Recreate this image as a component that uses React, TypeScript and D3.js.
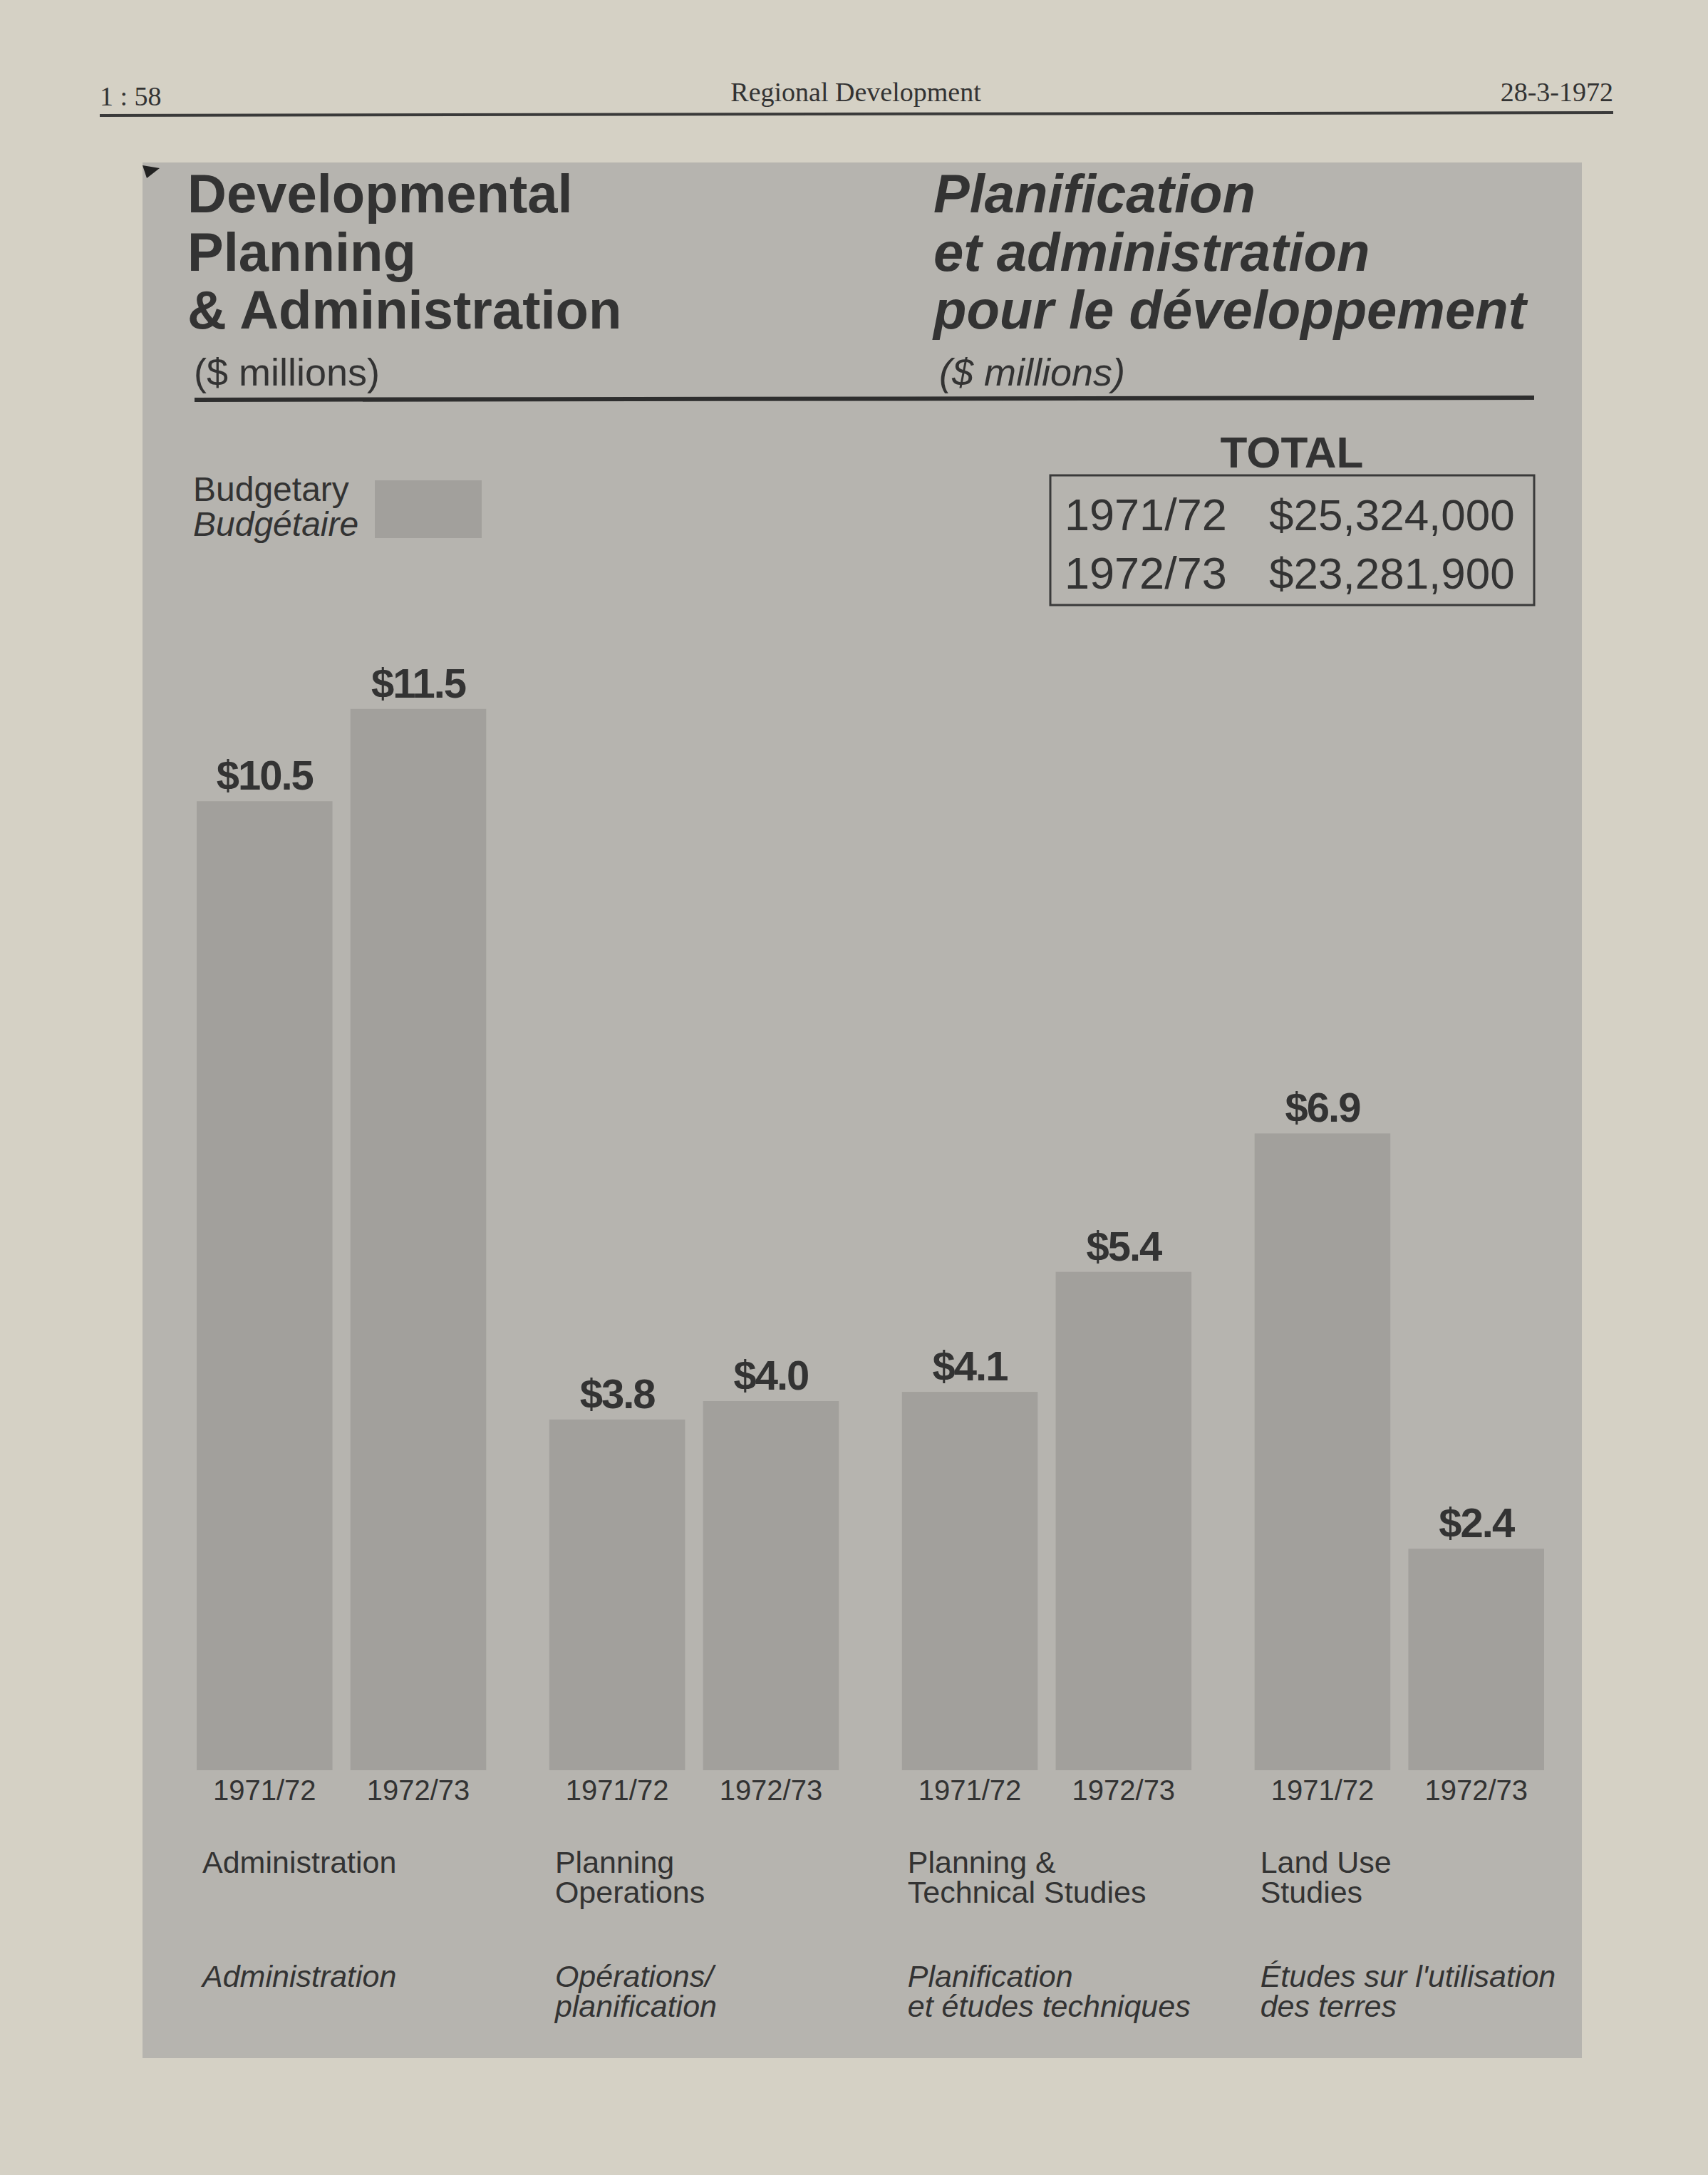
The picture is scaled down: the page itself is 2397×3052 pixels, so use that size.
import React, { useEffect } from "react";
import * as d3 from "d3";

const categories = ["Administration", "Planning Operations", "Planning & Technical Studies", "Land Use Studies"];
const categoryLabelsEn = [["Administration"], ["Planning", "Operations"], ["Planning &", "Technical Studies"], ["Land Use", "Studies"]];
const categoryLabelsFr = [["Administration"], ["Opérations/", "planification"], ["Planification", "et études techniques"], ["Études sur l'utilisation", "des terres"]];
const years = ["1971/72", "1972/73"];
const values1971 = [10.5, 3.8, 4.1, 6.9];
const values1972 = [11.5, 4.0, 5.4, 2.4];
const totalYears = ["1971/72", "1972/73"];
const totalAmounts = ["$25,324,000", "$23,281,900"];
const titleEn = ["Developmental", "Planning", "& Administration"];
const titleFr = ["Planification", "et administration", "pour le développement"];

const W = 2397;
const H = 3052;
const SANS = "'Liberation Sans', Arial, Helvetica, sans-serif";
const SERIF = "'Liberation Serif', 'DejaVu Serif', serif";
const INK = "#333333";
const PAGE = "#d5d1c5";
const PANEL = "#b6b4af";
const BAR = "#a2a09c";

export default function App() {
  useEffect(() => {
    document.body.style.margin = "0";
  }, []);

  const baseline = 2484;
  const y = d3.scaleLinear().domain([0, 11.5]).range([baseline, baseline - 11.5 * 129.5]);
  const x0 = d3.scaleBand<string>().domain(categories).range([276, 2167]).paddingInner(0.179).paddingOuter(0);
  const x1 = d3.scaleBand<string>().domain(years).range([0, x0.bandwidth()]).paddingInner(0.117);
  const fmt = (v: number) => "$" + d3.format(".1f")(v);

  const rows = categories.map((c, i) => ({ c, i, vals: [values1971[i], values1972[i]] }));

  return (
    <svg width={W} height={H} viewBox={`0 0 ${W} ${H}`} style={{ display: "block" }}>
      <rect x={0} y={0} width={W} height={H} fill={PAGE} />
      {/* page header */}
      <text x={140} y={148} fontFamily={SERIF} fontSize={38} fill={INK}>1 : 58</text>
      <text x={1201} y={142} fontFamily={SERIF} fontSize={38} fill={INK} textAnchor="middle">Regional Development</text>
      <text x={2264} y={142} fontFamily={SERIF} fontSize={38} fill={INK} textAnchor="end">28-3-1972</text>
      <line x1={140} y1={162} x2={2264} y2={158} stroke="#3a3a3a" strokeWidth={4} />

      {/* panel */}
      <rect x={200} y={228} width={2020} height={2660} fill={PANEL} />
      <path d="M200,232 L224,236 L206,250 Z" fill="#222" />

      {/* titles */}
      {titleEn.map((t, i) => (
        <text key={"te" + i} x={263} y={298 + i * 81.5} fontFamily={SANS} fontWeight="bold" fontSize={76} fill={INK}>{t}</text>
      ))}
      {titleFr.map((t, i) => (
        <text key={"tf" + i} x={1310} y={298 + i * 81.5} fontFamily={SANS} fontWeight="bold" fontStyle="italic" fontSize={76} fill={INK}>{t}</text>
      ))}
      <text x={272} y={541} fontFamily={SANS} fontSize={54} fill={INK}>($ millions)</text>
      <text x={1318} y={541} fontFamily={SANS} fontStyle="italic" fontSize={54} fill={INK}>($ millions)</text>
      <line x1={273} y1={561} x2={2153} y2={558} stroke="#2e2e2e" strokeWidth={6} />

      {/* legend */}
      <text x={271} y={703} fontFamily={SANS} fontSize={48} fill={INK}>Budgetary</text>
      <text x={271} y={752} fontFamily={SANS} fontStyle="italic" fontSize={48} fill={INK}>Budgétaire</text>
      <rect x={526} y={674} width={150} height={81} fill={BAR} />

      {/* total */}
      <text x={1813} y={656} fontFamily={SANS} fontWeight="bold" fontSize={62} fill={INK} textAnchor="middle">TOTAL</text>
      <rect x={1474} y={667} width={679} height={182} fill="none" stroke="#3a3a3a" strokeWidth={3} />
      {totalYears.map((t, i) => (
        <g key={"tot" + i}>
          <text x={1494} y={744 + i * 82} fontFamily={SANS} fontSize={63} fill={INK}>{t}</text>
          <text x={1781} y={744 + i * 82} fontFamily={SANS} fontSize={62} fill={INK}>{totalAmounts[i]}</text>
        </g>
      ))}

      {/* bars */}
      {rows.map((r) => (
        <g key={r.c} transform={`translate(${x0(r.c)},0)`}>
          {r.vals.map((v, j) => {
            const bx = x1(years[j])!;
            const bw = x1.bandwidth();
            return (
              <g key={j}>
                <rect x={bx} y={y(v)} width={bw} height={baseline - y(v)} fill={BAR} />
                <text x={bx + bw / 2} y={y(v) - 16} fontFamily={SANS} fontWeight="bold" fontSize={58} fill={INK} textAnchor="middle" letterSpacing={-2}>{fmt(v)}</text>
                <text x={bx + bw / 2} y={2526} fontFamily={SANS} fontSize={40} fill={INK} textAnchor="middle">{years[j]}</text>
              </g>
            );
          })}
          {categoryLabelsEn[r.i].map((t, k) => (
            <text key={"en" + k} x={8} y={2628 + k * 42} fontFamily={SANS} fontSize={43} fill={INK}>{t}</text>
          ))}
          {categoryLabelsFr[r.i].map((t, k) => (
            <text key={"fr" + k} x={8} y={2788 + k * 42} fontFamily={SANS} fontStyle="italic" fontSize={43} fill={INK}>{t}</text>
          ))}
        </g>
      ))}
    </svg>
  );
}
